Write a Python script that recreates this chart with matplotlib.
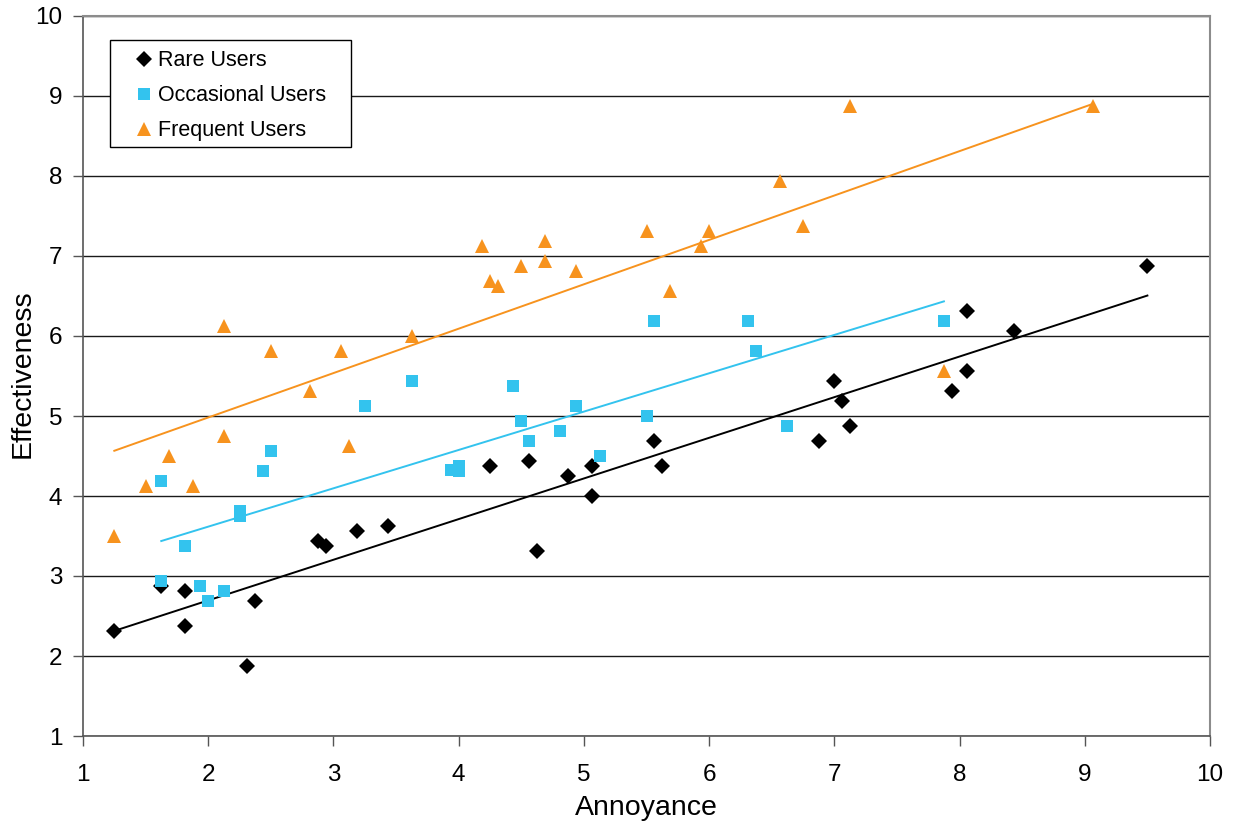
import numpy as np
import matplotlib
matplotlib.use("Agg")
import matplotlib.pyplot as plt
from matplotlib.patches import Rectangle

plt.rcParams['font.family'] = ['Liberation Sans', 'DejaVu Sans']

# Mean ratings per respondent group
rare_x = [1.25, 1.625, 1.8125, 1.8125, 2.3125, 2.375, 2.875, 2.9375, 3.1875, 3.4375,
          4.25, 4.5625, 4.625, 4.875, 5.0625, 5.0625, 5.5625, 5.625, 6.875, 7.0,
          7.0625, 7.125, 7.9375, 8.0625, 8.0625, 8.4375, 9.5]
rare_y = [2.3125, 2.875, 2.8125, 2.375, 1.875, 2.6875, 3.4375, 3.375, 3.5625, 3.625,
          4.375, 4.4375, 3.3125, 4.25, 4.375, 4.0, 4.6875, 4.375, 4.6875, 5.4375,
          5.1875, 4.875, 5.3125, 6.3125, 5.5625, 6.0625, 6.875]

occ_x = [1.625, 1.625, 1.8125, 1.9375, 2.0, 2.125, 2.25, 2.25, 2.4375, 2.5,
         3.25, 3.625, 3.9375, 4.0, 4.0, 4.4375, 4.5, 4.5625, 4.8125, 4.9375,
         5.125, 5.5, 5.5625, 6.3125, 6.375, 6.625, 7.875]
occ_y = [2.9375, 4.1875, 3.375, 2.875, 2.6875, 2.8125, 3.8125, 3.75, 4.3125, 4.5625,
         5.125, 5.4375, 4.33, 4.375, 4.3125, 5.375, 4.9375, 4.6875, 4.8125, 5.125,
         4.5, 5.0, 6.1875, 6.1875, 5.8125, 4.875, 6.1875]

freq_x = [1.25, 1.5, 1.6875, 1.875, 2.125, 2.125, 2.5, 2.8125, 3.0625, 3.125,
          3.625, 4.1875, 4.25, 4.3125, 4.5, 4.6875, 4.6875, 4.9375, 5.5, 5.6875,
          5.9375, 6.0, 6.5625, 6.75, 7.125, 7.875, 9.0625]
freq_y = [3.5, 4.125, 4.5, 4.125, 6.125, 4.75, 5.8125, 5.3125, 5.8125, 4.625,
          6.0, 7.125, 6.6875, 6.625, 6.875, 7.1875, 6.9375, 6.8125, 7.3125, 6.5625,
          7.125, 7.3125, 7.9375, 7.375, 8.875, 5.5625, 8.875]

series = [
    ("Rare Users", rare_x, rare_y, "#000000", "D", 8),
    ("Occasional Users", occ_x, occ_y, "#33C3EE", "s", 8),
    ("Frequent Users", freq_x, freq_y, "#F7931E", "^", 9.5),
]

fig = plt.figure(figsize=(12.33, 8.22), dpi=100)
ax = fig.add_axes([83 / 1233, 1 - 736 / 822, (1210 - 83) / 1233, (736 - 16) / 822])

ax.set_xlim(1, 10)
ax.set_ylim(1, 10)
ax.set_xticks(range(1, 11))
ax.set_yticks(range(1, 11))
ax.yaxis.grid(True, color="#1a1a1a", linewidth=1.0)
ax.set_axisbelow(True)

for name, xs, ys, col, mk, ms in series:
    ax.plot(xs, ys, linestyle="none", marker=mk, color=col, markersize=ms,
            markeredgewidth=0, label=name, zorder=3)
    # least-squares trend line over the data range
    k, b = np.polyfit(xs, ys, 1)
    xr = np.array([min(xs), max(xs)])
    ax.plot(xr, k * xr + b, color=col, linewidth=1.4, zorder=2)

for side in ("left", "bottom"):
    ax.spines[side].set_color("#555555")
    ax.spines[side].set_linewidth(1.2)
for side in ("top", "right"):
    ax.spines[side].set_color("#8c8c8c")
    ax.spines[side].set_linewidth(1.5)

ax.tick_params(axis="both", direction="out", length=7, width=1, color="#555555",
               labelsize=17.5)
ax.tick_params(axis="x", pad=13)
ax.tick_params(axis="y", pad=8)

ax.set_xlabel("Annoyance", fontsize=20.5)
ax.set_ylabel("Effectiveness", fontsize=20.5)
ax.xaxis.label.set_va("center")
ax.yaxis.label.set_va("center")
ax.xaxis.set_label_coords(0.5, -0.1)
ax.yaxis.set_label_coords(-0.054, 0.503)

# legend box with its entries
ax.add_patch(Rectangle((0.024, 0.818), 0.2138, 0.1487, transform=ax.transAxes,
                       facecolor="white", edgecolor="black", linewidth=1.0,
                       zorder=5))
leg = ax.legend(loc="upper left", bbox_to_anchor=(0.0466, 0.9525), frameon=False,
                fontsize=15.5, handlelength=0.8, handletextpad=0.25,
                borderpad=0, borderaxespad=0, labelspacing=0.65, markerscale=1.0)
leg.set_zorder(6)

fig.savefig("out.png", dpi=100, facecolor="white")
